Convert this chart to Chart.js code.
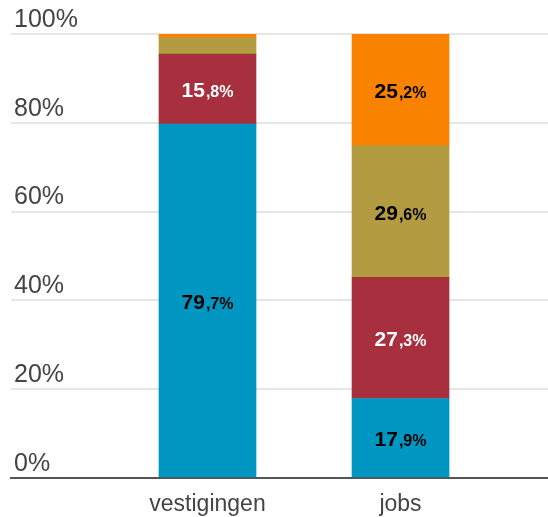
<!DOCTYPE html>
<html>
<head>
<meta charset="utf-8">
<script src="https://cdn.jsdelivr.net/npm/chart.js@4"></script>
<style>
  html, body { margin: 0; padding: 0; background: #fff; }
  #wrap { width: 548px; height: 517px; }
</style>
</head>
<body>
<div id="wrap"><canvas id="myChart"></canvas></div>
<script>
/* Data */
const categories = ['vestigingen', 'jobs'];
const blue_values = [79.7, 17.9];
const red_values = [15.8, 27.3];
const olive_values = [3.7, 29.6];
const orange_values = [0.8, 25.2];
const y_ticks = [0, 20, 40, 60, 80, 100];

const FONT = "'Liberation Sans', Arial, sans-serif";

function to_points(values) {
    // category i sits at x = i + 1 on the linear x axis
    return values.map((v, i) => ({ x: i + 1, y: v }));
}

const datasets = [
    { data: to_points(blue_values), backgroundColor: '#0096c2', label_color: '#000' },
    { data: to_points(red_values), backgroundColor: '#a8303e', label_color: '#fff' },
    { data: to_points(olive_values), backgroundColor: '#b39b41', label_color: '#000' },
    { data: to_points(orange_values), backgroundColor: '#f98200', label_color: '#000' },
];

for (const ds of datasets) {
    ds.barThickness = 97;
    ds.borderWidth = 0;
}

// draws "79" big and ",7%" small in the middle of each segment
const value_labels = {
    id: 'value_labels',
    afterDatasetsDraw(chart) {
        const ctx = chart.ctx;
        chart.data.datasets.forEach((ds, di) => {
            const meta = chart.getDatasetMeta(di);
            meta.data.forEach((bar, i) => {
                const v = ds.data[i].y;
                if (v < 5) {
                    return;
                }
                const parts = v.toFixed(1).split('.');
                const big = parts[0];
                const small = ',' + parts[1] + '%';
                const big_font = 'bold 21px ' + FONT;
                const small_font = 'bold 16px ' + FONT;
                ctx.save();
                ctx.font = big_font;
                const w1 = ctx.measureText(big).width;
                ctx.font = small_font;
                const w2 = ctx.measureText(small).width;
                const left = bar.x - (w1 + w2 + 1) / 2;
                const mid = (bar.y + bar.base) / 2;
                const baseline = mid + 8;
                ctx.fillStyle = ds.label_color;
                ctx.textBaseline = 'alphabetic';
                ctx.textAlign = 'left';
                ctx.font = big_font;
                ctx.fillText(big, left, baseline);
                ctx.font = small_font;
                ctx.fillText(small, left + w1 + 1, baseline);
                ctx.restore();
            });
        });
    }
};

const config = {
    type: 'bar',
    data: { datasets: datasets },
    options: {
        responsive: true,
        maintainAspectRatio: false,
        animation: false,
        layout: { padding: { top: 34, left: 11, right: 0, bottom: 0 } },
        plugins: {
            legend: { display: false },
            tooltip: { enabled: false }
        },
        scales: {
            x: {
                type: 'linear',
                stacked: true,
                offset: false,
                bounds: 'data',
                afterBuildTicks: (scale) => {
                    scale.ticks = categories.map((c, i) => ({ value: i + 1 }));
                    scale.min = -0.018;
                    scale.max = 2.764;
                },
                afterFit: (scale) => { scale.height = 39; },
                grid: { display: false, drawTicks: false },
                border: { display: true, color: '#555', width: 2 },
                ticks: {
                    color: '#444',
                    font: { family: FONT, size: 23 },
                    padding: 13,
                    callback: (v) => categories[v - 1]
                }
            },
            y: {
                stacked: true,
                min: 0,
                max: 100,
                afterBuildTicks: (scale) => {
                    scale.ticks = y_ticks.map((t) => ({ value: t }));
                },
                afterFit: (scale) => { scale.width = 0; },
                grid: { color: '#e6e6e6', lineWidth: 2, drawTicks: false },
                border: { display: false },
                ticks: {
                    mirror: true,
                    padding: 3,
                    labelOffset: -14,
                    color: '#444',
                    font: { family: FONT, size: 25 },
                    callback: (v) => v + '%'
                }
            }
        }
    },
    plugins: [value_labels]
};

const ctx = document.getElementById('myChart').getContext('2d');
const myChart = new Chart(ctx, config);
</script>
</body>
</html>
